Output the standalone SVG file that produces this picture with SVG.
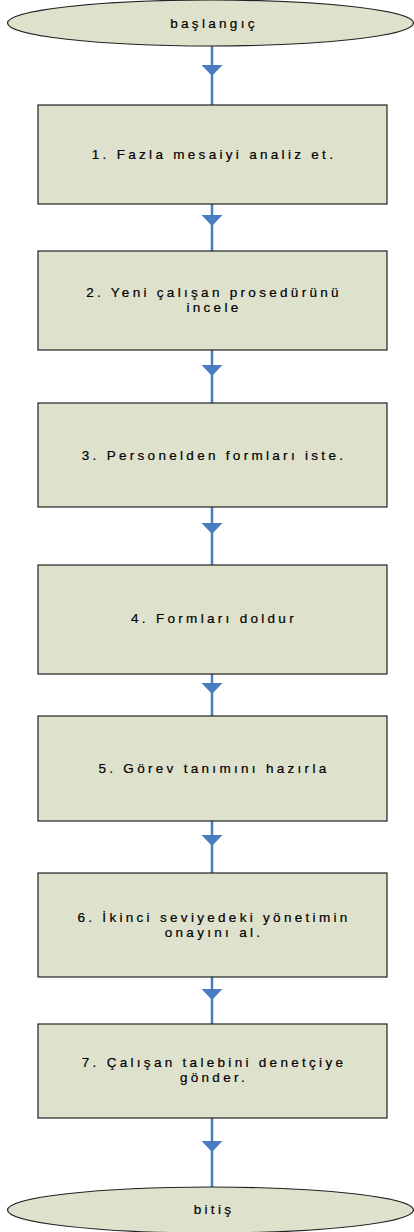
<svg xmlns="http://www.w3.org/2000/svg" width="414" height="1232" viewBox="0 0 414 1232">
  <style>
    .shape { fill: #dee1cb; stroke: #222; stroke-width: 1.2; }
    .label { font-family: "Liberation Sans", Arial, sans-serif; font-size: 13.5px; letter-spacing: 3.3px; fill: #000; stroke: #000; stroke-width: 0.2; text-anchor: middle; dominant-baseline: central; }
    .flow { fill: none; stroke: #4a7cc2; stroke-width: 2.5; marker-mid: url(#head); }
  </style>
  <defs>
    <marker id="head" viewBox="0 0 11 21" refX="11" refY="10.5" markerWidth="11" markerHeight="21" markerUnits="userSpaceOnUse" orient="auto">
      <path d="M0 0 L11 10.5 L0 21 Z" fill="#4a7cc2"/>
    </marker>
  </defs>
  <rect width="414" height="1232" fill="#fff"/>

  <!-- connectors: straight drops with the arrowhead partway down -->
  <g id="connectors">
    <path class="flow" d="M212 46 V76 V105"/>
    <path class="flow" d="M212 204 V226 V251"/>
    <path class="flow" d="M212 350 V376 V403"/>
    <path class="flow" d="M212 507 V534 V565"/>
    <path class="flow" d="M212 674 V694 V716"/>
    <path class="flow" d="M212 821 V846 V873"/>
    <path class="flow" d="M212 977 V1000 V1024"/>
    <path class="flow" d="M212 1118 V1152 V1187"/>
  </g>

  <g id="start">
    <ellipse class="shape" cx="210.5" cy="23" rx="203" ry="23"/>
    <text class="label" x="214" y="23">başlangıç</text>
  </g>

  <g id="step1">
    <rect class="shape" x="38" y="105" width="349" height="99"/>
    <text class="label" x="214" y="154">1. Fazla mesaiyi analiz et.</text>
  </g>

  <g id="step2">
    <rect class="shape" x="38" y="251" width="349" height="99"/>
    <text class="label" x="214" y="292">2. Yeni çalışan prosedürünü<tspan x="214" dy="15">incele</tspan></text>
  </g>

  <g id="step3">
    <rect class="shape" x="38" y="403" width="349" height="104"/>
    <text class="label" x="214" y="455">3. Personelden formları iste.</text>
  </g>

  <g id="step4">
    <rect class="shape" x="38" y="565" width="349" height="109"/>
    <text class="label" x="214" y="618">4. Formları doldur</text>
  </g>

  <g id="step5">
    <rect class="shape" x="38" y="716" width="349" height="105"/>
    <text class="label" x="214" y="768">5. Görev tanımını hazırla</text>
  </g>

  <g id="step6">
    <rect class="shape" x="38" y="873" width="349" height="104"/>
    <text class="label" x="214" y="917">6. İkinci seviyedeki yönetimin<tspan x="214" dy="15">onayını al.</tspan></text>
  </g>

  <g id="step7">
    <rect class="shape" x="38" y="1024" width="349" height="94"/>
    <text class="label" x="214" y="1062">7. Çalışan talebini denetçiye<tspan x="214" dy="15">gönder.</tspan></text>
  </g>

  <g id="end">
    <ellipse class="shape" cx="210.5" cy="1210" rx="203" ry="23"/>
    <text class="label" x="214" y="1209">bitiş</text>
  </g>
</svg>
